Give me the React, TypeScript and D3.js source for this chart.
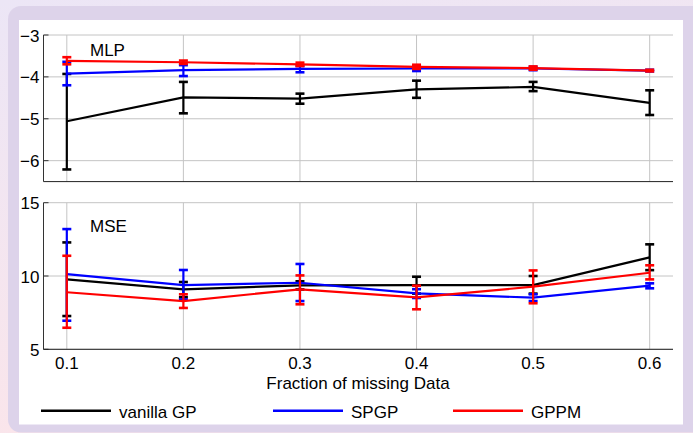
import React from "react";
import * as d3 from "d3";

const xs = [0.1, 0.2, 0.3, 0.4, 0.5, 0.6];
const xTickLabels = ["0.1", "0.2", "0.3", "0.4", "0.5", "0.6"];

// MLP panel
const mlpVanilla = [-5.06, -4.49, -4.52, -4.3, -4.24, -4.62];
const mlpVanillaHi = [-3.93, -4.12, -4.4, -4.09, -4.12, -4.32];
const mlpVanillaLo = [-6.21, -4.87, -4.64, -4.5, -4.34, -4.91];
const mlpSpgp = [-3.92, -3.84, -3.81, -3.8, -3.8, -3.85];
const mlpSpgpHi = [-3.64, -3.72, -3.74, -3.74, -3.76, -3.83];
const mlpSpgpLo = [-4.2, -3.98, -3.89, -3.86, -3.84, -3.87];
const mlpGppm = [-3.62, -3.65, -3.7, -3.76, -3.79, -3.85];
const mlpGppmHi = [-3.53, -3.61, -3.66, -3.71, -3.75, -3.83];
const mlpGppmLo = [-3.7, -3.69, -3.74, -3.81, -3.83, -3.87];
const mlpTicks = [-3, -4, -5, -6];

// MSE panel
const mseVanilla = [9.77, 9.09, 9.36, 9.38, 9.38, 11.27];
const mseVanillaHi = [12.29, 9.59, 9.64, 9.95, 10.0, 12.16];
const mseVanillaLo = [7.27, 8.55, 9.08, 8.8, 8.8, 10.4];
const mseSpgp = [10.13, 9.38, 9.54, 8.82, 8.52, 9.34];
const mseSpgpHi = [13.2, 10.41, 10.82, 9.1, 8.75, 9.5];
const mseSpgpLo = [6.95, 8.4, 8.29, 8.5, 8.29, 9.16];
const mseGppm = [8.89, 8.29, 9.09, 8.54, 9.27, 10.22];
const mseGppmHi = [11.38, 8.75, 10.04, 9.34, 10.38, 10.73];
const mseGppmLo = [6.47, 7.82, 8.07, 7.73, 8.14, 9.77];
const mseTicks = [5, 10, 15];

const seriesNames = ["vanilla GP", "SPGP", "GPPM"];
const seriesColors = ["#000000", "#0000ff", "#ff0000"];

const FONT = "Liberation Sans, Arial, sans-serif";
const FS = 17;

type Series = { v: number[]; hi: number[]; lo: number[]; color: string };

function Panel({
  top,
  bottom,
  domain,
  ticks,
  title,
  titleY,
  series,
  x,
  tickFmt,
}: {
  top: number;
  bottom: number;
  domain: [number, number];
  ticks: number[];
  title: string;
  titleY: number;
  series: Series[];
  x: d3.ScaleLinear<number, number>;
  tickFmt: (v: number) => string;
}) {
  const y = d3.scaleLinear().domain(domain).range([bottom, top]);
  const [x0, x1] = x.range();
  const line = d3
    .line<number>()
    .x((_, i) => x(xs[i]))
    .y((d) => y(d));
  const cap = 4.5;
  return (
    <g>
      {xs.map((v, i) => (
        <line key={"gx" + i} x1={x(v)} x2={x(v)} y1={top} y2={bottom} stroke="#c4c4c4" strokeWidth={1} />
      ))}
      {ticks.map((t, i) => (
        <line key={"gy" + i} x1={x0} x2={x1} y1={y(t)} y2={y(t)} stroke="#c4c4c4" strokeWidth={1} />
      ))}
      {ticks.map((t, i) => (
        <g key={"ty" + i}>
          <line x1={x0} x2={x0 + 5} y1={y(t)} y2={y(t)} stroke="#333" strokeWidth={1} />
          <text x={x0 - 4} y={y(t) + 6.5} textAnchor="end" fontSize={FS} fontFamily={FONT} fill="#000">
            {tickFmt(t)}
          </text>
        </g>
      ))}
      <line x1={x0} x2={x0} y1={top} y2={bottom} stroke="#333" strokeWidth={1} />
      <line x1={x0} x2={x1} y1={bottom} y2={bottom} stroke="#222" strokeWidth={1} />
      {series.map((s, si) => (
        <g key={"s" + si}>
          <path d={line(s.v) || ""} fill="none" stroke={s.color} strokeWidth={2.2} />
          {s.v.map((_, i) => {
            const cx = x(xs[i]);
            return (
              <g key={i} stroke={s.color} strokeWidth={2.2}>
                <line x1={cx} x2={cx} y1={y(s.hi[i])} y2={y(s.lo[i])} />
                <line x1={cx - cap} x2={cx + cap} y1={y(s.hi[i])} y2={y(s.hi[i])} strokeWidth={2.6} />
                <line x1={cx - cap} x2={cx + cap} y1={y(s.lo[i])} y2={y(s.lo[i])} strokeWidth={2.6} />
              </g>
            );
          })}
        </g>
      ))}
      <text x={90} y={titleY} fontSize={FS} fontFamily={FONT} fill="#000">
        {title}
      </text>
    </g>
  );
}

export default function App() {
  const W = 693;
  const H = 433;
  const x = d3.scaleLinear().domain([0.08, 0.62]).range([43.5, 673]);
  const minus = (v: number) => (v < 0 ? "\u2212" + Math.abs(v) : String(v));
  const mk = (v: number[], hi: number[], lo: number[], c: string): Series => ({ v, hi, lo, color: c });
  const mlpSeries = [
    mk(mlpVanilla, mlpVanillaHi, mlpVanillaLo, seriesColors[0]),
    mk(mlpSpgp, mlpSpgpHi, mlpSpgpLo, seriesColors[1]),
    mk(mlpGppm, mlpGppmHi, mlpGppmLo, seriesColors[2]),
  ];
  const mseSeries = [
    mk(mseVanilla, mseVanillaHi, mseVanillaLo, seriesColors[0]),
    mk(mseSpgp, mseSpgpHi, mseSpgpLo, seriesColors[1]),
    mk(mseGppm, mseGppmHi, mseGppmLo, seriesColors[2]),
  ];
  const legendX = [41, 273, 453];
  return (
    <svg width={W} height={H} style={{ position: "absolute", left: 0, top: 0 }}>
      <defs>
        <linearGradient id="bg" x1="0" y1="0" x2="0.3" y2="1">
          <stop offset="0" stopColor="#ece6f6" />
          <stop offset="1" stopColor="#fbe5ea" />
        </linearGradient>
      </defs>
      <rect x={0} y={0} width={W} height={H} fill="url(#bg)" />
      <rect x={8} y={6} width={700} height={426.5} rx={13} fill="#ddd3ea" />
      <rect x={19} y={20} width={664} height={404.5} fill="#ffffff" />
      <Panel top={35} bottom={181.6} domain={[-6.5, -3]} ticks={mlpTicks} title="MLP" titleY={56} series={mlpSeries} x={x} tickFmt={minus} />
      <Panel top={202.7} bottom={349.3} domain={[5, 15]} ticks={mseTicks} title="MSE" titleY={231.5} series={mseSeries} x={x} tickFmt={minus} />
      {xs.map((v, i) => (
        <text key={"xl" + i} x={x(v)} y={368.5} textAnchor="middle" fontSize={FS} fontFamily={FONT} fill="#000">
          {xTickLabels[i]}
        </text>
      ))}
      <text x={358} y={388.5} textAnchor="middle" fontSize={FS} fontFamily={FONT} fill="#000">
        Fraction of missing Data
      </text>
      {seriesNames.map((n, i) => (
        <g key={"lg" + i}>
          <line x1={legendX[i]} x2={legendX[i] + 70} y1={410.7} y2={410.7} stroke={seriesColors[i]} strokeWidth={2.5} />
          <text x={legendX[i] + 78} y={417.5} fontSize={FS} fontFamily={FONT} fill="#000">
            {n}
          </text>
        </g>
      ))}
    </svg>
  );
}
